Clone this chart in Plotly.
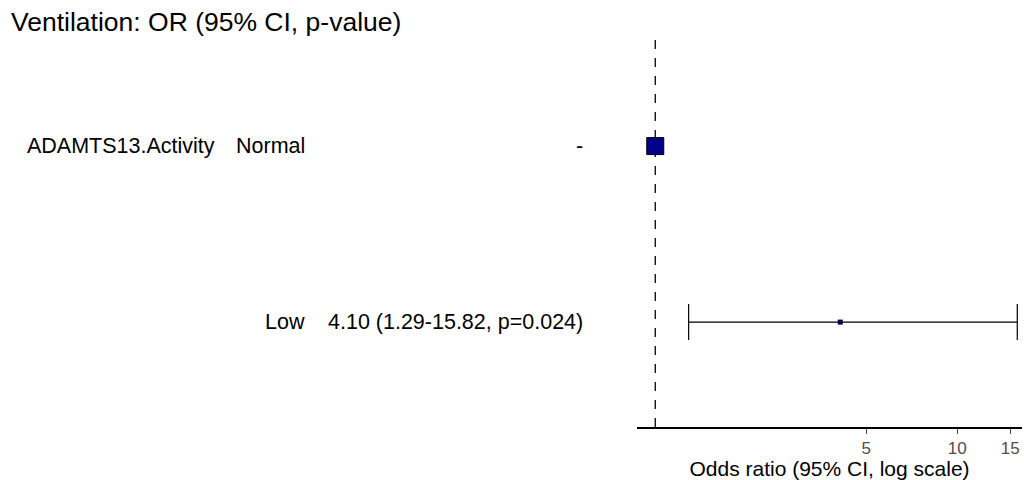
import plotly.graph_objects as go
import math

# Data
variable = "ADAMTS13.Activity"
levels = ["Normal", "Low"]
or_text = ["-", "4.10 (1.29-15.82, p=0.024)"]
or_values = [1.0, 4.10]
ci_low = [None, 1.29]
ci_high = [None, 15.82]
row_pos = [2, 1]
tick_vals = [5, 10, 15]
tick_text = ["5", "10", "15"]
title_text = "Ventilation: OR (95% CI, p-value)"
x_title = "Odds ratio (95% CI, log scale)"

FONT = "Liberation Sans, Arial, sans-serif"
PW = 1022.0        # paper width in px


def px(x):
    return x / PW


fig = go.Figure()

# Reference level (big square)
fig.add_trace(go.Scatter(
    x=[or_values[0]], y=[row_pos[0]], mode="markers",
    marker=dict(symbol="square", size=17, color="#00008B",
                line=dict(color="black", width=1)),
    showlegend=False, hoverinfo="skip"))

# Low level with CI
fig.add_trace(go.Scatter(
    x=[or_values[1]], y=[row_pos[1]], mode="markers",
    marker=dict(symbol="square", size=5, color="#00004B",
                line=dict(color="black", width=0)),
    error_x=dict(type="data", symmetric=False,
                 array=[ci_high[1] - or_values[1]],
                 arrayminus=[or_values[1] - ci_low[1]],
                 color="black", thickness=1.2, width=18),
    showlegend=False, hoverinfo="skip"))

# Dashed reference line at OR = 1
fig.add_shape(type="line", xref="x", yref="paper", x0=1, x1=1, y0=0, y1=1,
              line=dict(color="black", width=1.3, dash="dash"), layer="below")

ROWF = dict(family=FONT, size=21.5, color="black")
ann = []
ann.append(dict(text=variable, x=px(25), y=row_pos[0], xref="paper", yref="y",
                xanchor="left", yanchor="middle", showarrow=False, font=ROWF))
for lv, txt, yp in zip(levels, or_text, row_pos):
    ann.append(dict(text=lv, x=px(307), y=yp, xref="paper", yref="y",
                    xanchor="right", yanchor="middle", showarrow=False, font=ROWF))
    ann.append(dict(text=txt, x=px(585), y=yp, xref="paper", yref="y",
                    xanchor="right", yanchor="middle", showarrow=False, font=ROWF))
ann.append(dict(text=title_text, x=px(9), y=1.0 + 16 / 389, xref="paper", yref="paper",
                xanchor="left", yanchor="middle", showarrow=False,
                font=dict(family=FONT, size=26.5, color="black")))

fig.update_layout(
    width=1024, height=480,
    margin=dict(l=0, r=2, t=38, b=53),
    paper_bgcolor="white", plot_bgcolor="white",
    annotations=ann,
    font=dict(family=FONT, color="black"),
    xaxis=dict(type="log", domain=[px(637), 1.0],
               range=[math.log10(0.87), math.log10(16.4)],
               tickvals=tick_vals, ticktext=tick_text,
               showgrid=False, zeroline=False,
               showline=True, linecolor="black", linewidth=1.5,
               ticks="outside", ticklen=5, tickcolor="#444", tickwidth=1,
               tickfont=dict(family=FONT, size=17, color="#4d4d4d"),
               title=dict(text=x_title, standoff=0,
                          font=dict(family=FONT, size=21, color="black"))),
    yaxis=dict(range=[0.404, 2.614], showgrid=False, zeroline=False,
               showline=False, showticklabels=False, ticks=""),
)

fig.write_html(
    "out.html",
    config={"displayModeBar": False},
    post_script="document.body.style.margin='0';document.body.style.overflow='hidden';",
)
